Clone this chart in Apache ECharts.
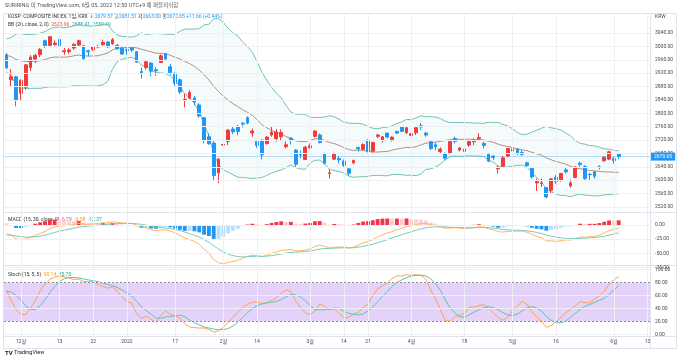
<!DOCTYPE html>
<html><head><meta charset="utf-8">
<script src="https://cdn.jsdelivr.net/npm/echarts@6/dist/echarts.min.js"></script>
<style>html,body{margin:0;padding:0;background:#fff}#c{width:680px;height:364px}</style>
</head><body><div id="c"></div><script>
// ---------- DATA ----------
const dates = ['2021-11-26','2021-11-29','2021-11-30',
'2021-12-01','2021-12-02','2021-12-03','2021-12-06','2021-12-07','2021-12-08','2021-12-09','2021-12-10','2021-12-13','2021-12-14','2021-12-15','2021-12-16','2021-12-17','2021-12-20','2021-12-21','2021-12-22','2021-12-23','2021-12-24','2021-12-27','2021-12-28','2021-12-29','2021-12-30',
'2022-01-03','2022-01-04','2022-01-05','2022-01-06','2022-01-07','2022-01-10','2022-01-11','2022-01-12','2022-01-13','2022-01-14','2022-01-17','2022-01-18','2022-01-19','2022-01-20','2022-01-21','2022-01-24','2022-01-25','2022-01-26','2022-01-27','2022-01-28',
'2022-02-03','2022-02-04','2022-02-07','2022-02-08','2022-02-09','2022-02-10','2022-02-11','2022-02-14','2022-02-15','2022-02-16','2022-02-17','2022-02-18','2022-02-21','2022-02-22','2022-02-23','2022-02-24','2022-02-25','2022-02-28',
'2022-03-02','2022-03-03','2022-03-04','2022-03-07','2022-03-08','2022-03-10','2022-03-11','2022-03-14','2022-03-15','2022-03-16','2022-03-17','2022-03-18','2022-03-21','2022-03-22','2022-03-23','2022-03-24','2022-03-25','2022-03-28','2022-03-29','2022-03-30','2022-03-31',
'2022-04-01','2022-04-04','2022-04-05','2022-04-06','2022-04-07','2022-04-08','2022-04-11','2022-04-12','2022-04-13','2022-04-14','2022-04-15','2022-04-18','2022-04-19','2022-04-20','2022-04-21','2022-04-22','2022-04-25','2022-04-26','2022-04-27','2022-04-28','2022-04-29',
'2022-05-02','2022-05-03','2022-05-04','2022-05-06','2022-05-09','2022-05-10','2022-05-11','2022-05-12','2022-05-13','2022-05-16','2022-05-17','2022-05-18','2022-05-19','2022-05-20','2022-05-23','2022-05-24','2022-05-25','2022-05-26','2022-05-27','2022-05-30','2022-05-31',
'2022-06-02','2022-06-03'];
const futureDates = ['2022-06-06','2022-06-07','2022-06-08','2022-06-09','2022-06-10','2022-06-13'];

const opens = [2975,2900,2909,
2860,2878,2937,2962,2975,3017,3003,3006,3021,2984,2984,2995,3004,3002,2987,2990,3000,3005,3013,3008,3003,2995,
2991,2995,2984,2925,2937,2950,2930,2952,2978,2939,2920,2900,2838,2845,2846,2825,2787,2730,2711,2622,
2705,2716,2753,2761,2770,2787,2741,2716,2720,2710,2735,2724,2730,2700,2726,2690,2680,2662,
2697,2731,2735,2680,2620,2663,2665,2657,2634,2652,2698,2692,2720,2687,2731,2718,2741,2719,2746,2760,2742,
2734,2742,2763,2741,2715,2706,2686,2680,2680,2725,2690,2686,2705,2715,2725,2710,2680,2672,2634,2642,2672,
2694,2693,2683,2652,2636,2592,2590,2578,2570,2609,2599,2631,2583,2608,2651,2641,2618,2625,2640,2658,2663,
2665,2679.57];
const highs = [2980,2932,2912,
2901,2947,2974,2978,2995,3020,3030,3018,3023,2995,2995,3010,3020,3004,2990,3000,3005,3020,3016,3025,3008,3002,
2994,3000,2986,2937,2959,2953,2938,2976,2980,2947,2922,2904,2858,2869,2852,2830,2789,2741,2717,2666,
2721,2752,2762,2765,2775,2791,2754,2718,2722,2732,2762,2753,2752,2716,2728,2693,2689,2703,
2710,2750,2740,2682,2633,2682,2672,2662,2638,2662,2700,2710,2722,2715,2739,2731,2742,2731,2748,2762,2759,
2740,2758,2772,2745,2720,2712,2698,2683,2718,2730,2700,2696,2720,2725,2740,2715,2682,2675,2643,2672,2697,
2700,2695,2690,2655,2640,2605,2605,2580,2607,2615,2622,2636,2603,2642,2655,2645,2622,2627,2645,2672,2688,
2670,2681.51];
const lows = [2932,2880,2821,
2837,2870,2926,2950,2968,2995,2999,2998,2999,2975,2978,2990,3001,2961,2970,2986,2994,3002,2995,3005,2990,2975,
2975,2983,2951,2904,2930,2910,2912,2950,2958,2914,2882,2858,2818,2842,2824,2787,2710,2706,2600,2591,
2685,2705,2738,2735,2757,2767,2730,2697,2662,2706,2730,2715,2720,2695,2707,2640,2666,2661,
2694,2728,2710,2648,2605,2660,2650,2640,2613,2648,2686,2690,2683,2682,2726,2713,2725,2715,2738,2745,2738,
2720,2735,2750,2730,2690,2690,2680,2661,2677,2710,2686,2675,2700,2705,2718,2695,2654,2660,2620,2638,2668,
2680,2675,2673,2638,2605,2568,2580,2546,2560,2588,2596,2620,2578,2606,2640,2600,2600,2605,2632,2655,2660,
2650,2663.00];
const closes = [2936,2909,2839,
2899,2945,2968,2973,2991,3001,3029,3010,3001,2987,2989,3006,3017,2963,2984,2998,2998,3012,2999,3020,2993,2977,
2988,2989,2953,2920,2954,2926,2927,2972,2962,2921,2890,2864,2842,2862,2834,2792,2720,2709,2614,2663,
2707,2750,2745,2746,2768,2771,2747,2704,2676,2729,2744,2744,2743,2706,2719,2648,2676,2699,
2703,2747,2713,2651,2622,2680,2661,2645,2621,2659,2694,2707,2686,2713,2735,2730,2729,2729,2741,2746,2757,
2739,2757,2759,2735,2695,2700,2693,2666,2716,2716,2696,2693,2718,2718,2728,2704,2657,2668,2639,2667,2695,
2687,2680,2677,2644,2610,2596,2592,2550,2604,2596,2620,2625,2592,2639,2647,2605,2617,2612,2638,2669,2685,
2658.99,2670.65];

// bars before the visible window (needed by the indicators' look-back)
const priorCloses = [3207,3175,3201,3203,3187,3162,3114,3125,3127,3148,3153,3130,3140,3127,3125,3133,3097,3060,3068,3019,
2962,2908,2959,2956,2916,2944,2988,3015,3006,3029,3013,3007,3006,3020,3049,3025,3009,2970,2983,3013,2975,2983,2969,2960,2962,2930,2924,2968,2999,2997,2962,2947,2971,3013,2997,2994,2980];
const priorHighs = [3025,3020,3023,3052,3050,3026,3012,2990,3015,3010,2995,2985,2980,2975,2962,2940,2970,3003,3010,2995,2965,2973,3015,3020,3005,2998];
const priorLows  = [2995,2995,2990,3025,3020,3001,2965,2960,2985,2970,2975,2962,2955,2950,2925,2910,2935,2975,2990,2958,2940,2950,2980,2990,2985,2975];

const tickDates  = ['2021-12-01','2021-12-13','2021-12-22','2022-01-03','2022-01-17','2022-02-03','2022-02-14','2022-03-02','2022-03-14','2022-03-21','2022-04-01','2022-04-18','2022-05-02','2022-05-16','2022-06-02','2022-06-13'];
const tickLabels = ['12월','13','22','2022','17','2월','14','3월','14','21','4월','18','5월','16','6월','13'];
const priceTicks = [2520,2560,2600,2640,2680,2720,2760,2800,2840,2880,2920,2960,3000,3040];
const macdTicks = [0,-25,-50,-75];
const stochTicks = [0,20,40,60,80,100];

const headerText = 'SURIRING 이 TradingView.com, 6월 05, 2022 12:50 UTC+9 에 퍼블리쉬함';
const symbolTitle = 'KOSPI COMPOSITE INDEX, 1일, KRX';
const bbTitle = 'BB (20, close, 2, 0)';
const bbLegend = [2623.96, 2688.41, 2559.49];
const macdTitle = 'MACD (15, 30, close, 9)';
const macdLegend = [6.79, -5.58, -12.37];
const stochTitle = 'Stoch (15, 5, 5)';
const stochLegend = [90.14, 75.70];

// ---------- INDICATORS ----------
const N = dates.length;
const cats = dates.concat(futureDates);
const pad = a => a.concat(futureDates.map(() => null));
const allC = priorCloses.concat(closes);
const off = priorCloses.length;
const bbMid = [], bbUp = [], bbLo = [], bbRange = [];
for (let i = 0; i < N; i++) {
  const w = allC.slice(off + i - 19, off + i + 1);
  const m = w.reduce((a, b) => a + b, 0) / 20;
  const sd = Math.sqrt(w.reduce((a, b) => a + (b - m) * (b - m), 0) / 20);
  bbMid.push(m); bbUp.push(m + 2 * sd); bbLo.push(m - 2 * sd); bbRange.push(4 * sd);
}
function ema(arr, n) { const k = 2 / (n + 1); let e = arr[0]; return arr.map((v, i) => (e = i === 0 ? v : v * k + e * (1 - k))); }
const eF = ema(allC, 15), eS = ema(allC, 30);
const macdAll = eF.map((v, i) => v - eS[i]);
const sigAll = ema(macdAll, 9);
const histAll = macdAll.map((v, i) => v - sigAll[i]);
const macd = macdAll.slice(off), signal = sigAll.slice(off), hist = histAll.slice(off);
const histData = hist.map((h, i) => {
  const p = histAll[off + i - 1];
  let col;
  if (h >= 0) col = h > p ? '#f23645' : '#ffcdd2';
  else col = h < p ? '#2196f3' : '#bbdefb';
  return { value: h, itemStyle: { color: col } };
});
const sC = priorCloses.slice(-priorHighs.length).concat(closes);
const sH = priorHighs.concat(highs), sL = priorLows.concat(lows);
const raw = sC.map((c, j) => {
  if (j < 14) return null;
  const hh = Math.max(...sH.slice(j - 14, j + 1)), ll = Math.min(...sL.slice(j - 14, j + 1));
  return 100 * (c - ll) / (hh - ll);
});
const sma = (a, n) => a.map((v, j) => {
  if (j < n - 1) return null;
  const w = a.slice(j - n + 1, j + 1);
  if (w.some(x => x == null)) return null;
  return w.reduce((p, q) => p + q, 0) / n;
});
const kAll = sma(raw, 5), dAll = sma(kAll, 5);
const so = priorHighs.length;
const stK = kAll.slice(so), stD = dAll.slice(so);

const candles = dates.map((d, i) => [opens[i], closes[i], lows[i], highs[i]]).concat(futureDates.map(() => '-'));

// ---------- CHART ----------
const FONT = 'Roboto, "Noto Sans CJK KR", sans-serif';
const AX = '#4a4a4a';
const GL = '#eef0f5';
const tickMap = {}; tickDates.forEach((d, i) => tickMap[d] = tickLabels[i]);
const lastI = N - 1;
const lastTxt = closes[lastI].toFixed(2);
const chg = closes[lastI] - closes[lastI - 1];
const pct = chg / closes[lastI - 1] * 100;

function gridLines(k, yTicks) {
  return {
    type: 'line', xAxisIndex: k, yAxisIndex: k, data: cats.map(() => null), silent: true, z: 1, symbol: 'none',
    markLine: { silent: true, symbol: ['none', 'none'], label: { show: false }, animation: false, emphasis: { disabled: true },
      lineStyle: { color: GL, width: 1, type: 'solid' },
      data: tickDates.map(d => ({ xAxis: d })).concat(yTicks.map(v => ({ yAxis: v }))) }
  };
}
function xAx(k) {
  return {
    type: 'category', data: cats, gridIndex: k, boundaryGap: true,
    axisLine: { show: false }, axisTick: { show: false }, splitLine: { show: false },
    axisLabel: k === 2 ? { show: true, interval: (i, v) => tickMap[v] !== undefined, formatter: v => tickMap[v] || '',
      fontSize: 5, color: AX, margin: 3, fontFamily: FONT } : { show: false }
  };
}
function yAx(k, min, max, ticks) {
  return {
    type: 'value', gridIndex: k, position: 'right', min, max, scale: true,
    axisLine: { show: false }, axisTick: { show: false }, splitLine: { show: false },
    axisLabel: { customValues: ticks, formatter: v => v.toFixed(2), fontSize: 5, color: AX, margin: 5, fontFamily: FONT }
  };
}

const lineS = (k, data, color, z, w) => ({ type: 'line', xAxisIndex: k, yAxisIndex: k, data: pad(data), symbol: 'none', silent: true, z,
  lineStyle: { color, width: w || 1 }, emphasis: { disabled: true } });

const option = {
  animation: false,
  backgroundColor: '#ffffff',
  grid: [
    { left: 4, right: 30, top: 14, height: 198 },
    { left: 4, right: 30, top: 213, height: 55 },
    { left: 4, right: 30, top: 266, height: 70 }
  ],
  xAxis: [xAx(0), xAx(1), xAx(2)],
  yAxis: [
    yAx(0, 2505.06, 3096.8, priceTicks),
    yAx(1, -75.7, 21.1, macdTicks),
    yAx(2, -2, 105.7, stochTicks)
  ],
  series: [
    gridLines(0, priceTicks),
    gridLines(1, macdTicks),
    gridLines(2, stochTicks),
    // BB fill (stacked)
    { type: 'line', xAxisIndex: 0, yAxisIndex: 0, stack: 'bb', data: pad(bbLo), symbol: 'none', silent: true, z: 2, lineStyle: { opacity: 0 } },
    { type: 'line', xAxisIndex: 0, yAxisIndex: 0, stack: 'bb', data: pad(bbRange), symbol: 'none', silent: true, z: 2, lineStyle: { opacity: 0 },
      areaStyle: { color: 'rgba(110,195,180,0.10)', origin: 'start' } },
    lineS(0, bbUp, '#72c2b3', 3, 1),
    lineS(0, bbLo, '#72c2b3', 3, 1),
    lineS(0, bbMid, '#b98c88', 3, 1),
    {
      type: 'candlestick', xAxisIndex: 0, yAxisIndex: 0, data: candles, barWidth: '68%', z: 4, silent: true,
      itemStyle: { color: '#f23b3b', color0: '#2196f3', borderColor: '#f23b3b', borderColor0: '#2196f3', borderWidth: 1 }
    },
    // last price line + label
    {
      type: 'line', xAxisIndex: 0, yAxisIndex: 0, data: cats.map(() => null), silent: true, z: 7, symbol: 'none',
      markLine: { silent: true, symbol: ['none', 'none'], animation: false,
        lineStyle: { color: '#2196f3', opacity: 0.3, width: 1, type: 'solid' },
        label: { show: true, position: 'end', formatter: lastTxt, backgroundColor: '#2196f3', color: '#ffffff', fontSize: 5,
          fontFamily: FONT, padding: [2, 3, 1, 3], distance: 1, opacity: 1 },
        emphasis: { disabled: true },
        data: [{ yAxis: closes[lastI] }] }
    },
    // MACD
    { type: 'bar', xAxisIndex: 1, yAxisIndex: 1, data: pad(histData), barWidth: '80%', silent: true, z: 2 },
    lineS(1, macd, '#ffb55e', 3, 1),
    lineS(1, signal, '#7ccbba', 3, 1),
    // Stoch
    lineS(2, stK, '#ffa24a', 3, 1),
    lineS(2, stD, '#5ec4b0', 3, 1),
    {
      type: 'line', xAxisIndex: 2, yAxisIndex: 2, data: cats.map(() => null), silent: true, z: 6, symbol: 'none',
      markArea: { silent: true, animation: false, itemStyle: { color: 'rgba(150,80,240,0.26)' }, data: [[{ yAxis: 20 }, { yAxis: 80 }]] },
      markLine: { silent: true, symbol: ['none', 'none'], label: { show: false }, animation: false,
        lineStyle: { color: '#8a8d96', width: 1, type: [2, 2] }, data: [{ yAxis: 80 }, { yAxis: 20 }] }
    }
  ],
  graphic: [
    { type: 'rect', silent: true, z: 0, shape: { x: 3.5, y: 13.5, width: 673, height: 335 }, style: { fill: 'none', stroke: '#e0e3eb', lineWidth: 1 } },
    { type: 'line', silent: true, shape: { x1: 650.5, y1: 14, x2: 650.5, y2: 348 }, style: { stroke: '#e0e3eb', lineWidth: 1 } },
    { type: 'line', silent: true, shape: { x1: 4, y1: 212.5, x2: 676, y2: 212.5 }, style: { stroke: '#e0e3eb', lineWidth: 1 } },
    { type: 'line', silent: true, shape: { x1: 4, y1: 265.5, x2: 676, y2: 265.5 }, style: { stroke: '#e0e3eb', lineWidth: 1 } },
    { type: 'line', silent: true, shape: { x1: 4, y1: 336.5, x2: 676, y2: 336.5 }, style: { stroke: '#e0e3eb', lineWidth: 1 } },
    { type: 'text', silent: true, x: 5, y: 6, style: { text: headerText, fontSize: 5.5, fontFamily: FONT, fill: '#555', verticalAlign: 'middle' } },
    { type: 'text', silent: true, x: 655, y: 17, style: { text: 'KRW', fontSize: 5, fontFamily: FONT, fill: AX, verticalAlign: 'middle' } },
    { type: 'text', silent: true, x: 8, y: 16.5, style: {
      text: `{t|${symbolTitle}}  {l|시}{v|${opens[lastI].toFixed(2)}} {l|고}{v|${highs[lastI].toFixed(2)}} {l|저}{v|${lows[lastI].toFixed(2)}} {l|종}{v|${closes[lastI].toFixed(2)}} {v|${(chg >= 0 ? '+' : '') + chg.toFixed(2)} (${(pct >= 0 ? '+' : '') + pct.toFixed(2)}%)}`,
      verticalAlign: 'middle', fontSize: 5, fontFamily: FONT,
      rich: { t: { fontSize: 5, fontFamily: FONT, fill: '#333' }, l: { fontSize: 5, fontFamily: FONT, fill: '#333' }, v: { fontSize: 5, fontFamily: FONT, fill: '#2196f3' } } } },
    { type: 'text', silent: true, x: 8, y: 24.5, style: {
      text: `{t|${bbTitle}}  {a|${bbLegend[0].toFixed(2)}}  {b|${bbLegend[1].toFixed(2)}}  {b|${bbLegend[2].toFixed(2)}}`,
      verticalAlign: 'middle', fontSize: 5, fontFamily: FONT,
      rich: { t: { fontSize: 5, fontFamily: FONT, fill: '#333' }, a: { fontSize: 5, fontFamily: FONT, fill: '#d9534f' }, b: { fontSize: 5, fontFamily: FONT, fill: '#26a69a' } } } },
    { type: 'text', silent: true, x: 8, y: 220, style: {
      text: `{t|${macdTitle}}  {a|${macdLegend[0].toFixed(2)}}  {b|${macdLegend[1].toFixed(2)}}  {c|${macdLegend[2].toFixed(2)}}`,
      verticalAlign: 'middle', fontSize: 5, fontFamily: FONT,
      rich: { t: { fontSize: 5, fontFamily: FONT, fill: '#333' }, a: { fontSize: 5, fontFamily: FONT, fill: '#ef5350' }, b: { fontSize: 5, fontFamily: FONT, fill: '#ff9800' }, c: { fontSize: 5, fontFamily: FONT, fill: '#26a69a' } } } },
    { type: 'text', silent: true, x: 8, y: 274.7, style: {
      text: `{t|${stochTitle}}  {a|${stochLegend[0].toFixed(2)}}  {b|${stochLegend[1].toFixed(2)}}`,
      verticalAlign: 'middle', fontSize: 5, fontFamily: FONT,
      rich: { t: { fontSize: 5, fontFamily: FONT, fill: '#333' }, a: { fontSize: 5, fontFamily: FONT, fill: '#ff9800' }, b: { fontSize: 5, fontFamily: FONT, fill: '#26a69a' } } } },
    { type: 'text', silent: true, x: 5, y: 353, style: {
      text: '{l|TV} {t|TradingView}', verticalAlign: 'middle', fontSize: 5.5, fontFamily: FONT,
      rich: { l: { fontSize: 6, fontWeight: 'bold', fontFamily: FONT, fill: '#131722' }, t: { fontSize: 5.5, fontFamily: FONT, fill: '#131722' } } } }
  ]
};
const chart = echarts.init(document.getElementById('c'), null, { renderer: 'canvas' });
chart.setOption(option);
</script></body></html>
